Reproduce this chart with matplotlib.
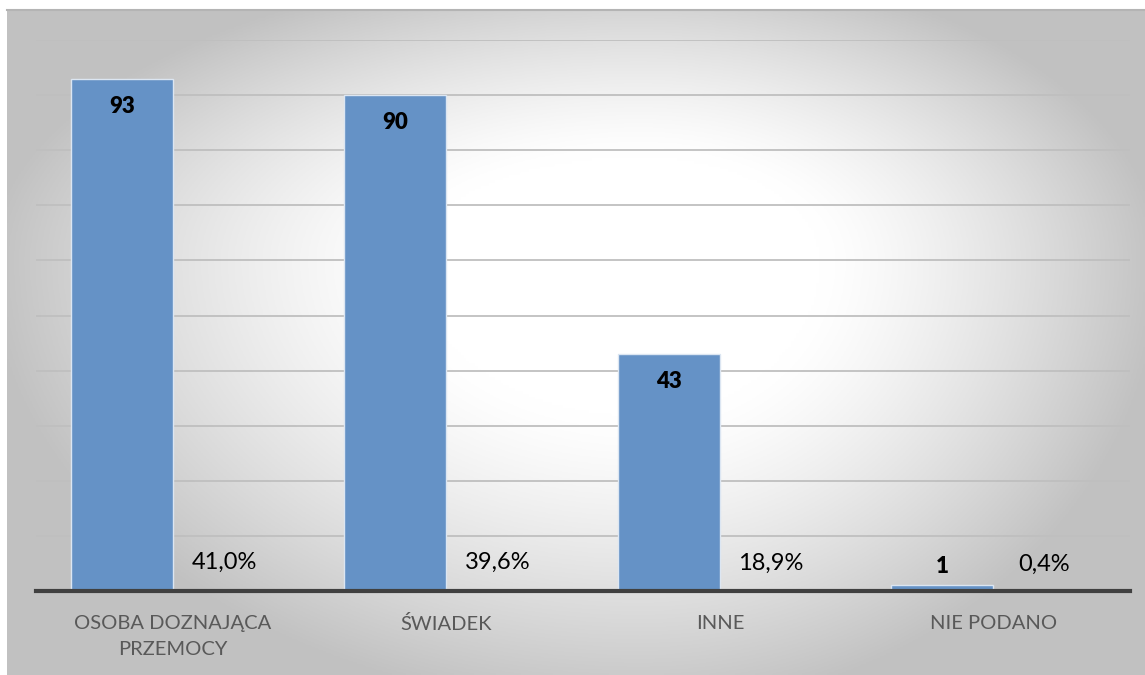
import matplotlib
matplotlib.use("Agg")
import matplotlib.pyplot as plt
import numpy as np

# Dane z wykresu
kategorie = ['OSOBA DOZNAJĄCA\nPRZEMOCY', 'ŚWIADEK', 'INNE', 'NIE PODANO']
liczba = [93, 90, 43, 1]
procent = [41.0, 39.6, 18.9, 0.4]

plt.rcParams['font.family'] = ['Lato', 'DejaVu Sans']

W, H = 1145, 675
fig = plt.figure(figsize=(W / 100, H / 100), dpi=100)

# tlo z gradientem radialnym (bialy srodek, szare brzegi)
bg = fig.add_axes([7 / W, 0, 1 - 7 / W, 665 / H], zorder=0)
gx, gy = np.meshgrid(np.linspace(7, 1145, 400), np.linspace(10, 675, 240))
dx, dy = gx - 640, gy - 260
nx = np.where(dx > 0, dx / 520, dx / 650)
ny = np.where(dy < 0, dy / 300, dy / 450)
r = np.hypot(nx, ny)
fall = np.clip((r - 0.35) / 0.65, 0, 1) ** 1.3
shade = 1 - 0.24 * fall
bg.imshow(np.dstack([shade] * 3), aspect='auto', extent=(0, 1, 0, 1), origin='upper')
bg.set_axis_off()
fig.add_artist(plt.Line2D([7 / W, 1], [665 / H, 665 / H], color='#b4b4b4', lw=1.5))

ax = fig.add_axes([36.3 / W, 84 / H, (1130 - 36.3) / W, 551 / H], zorder=1)
ax.patch.set_alpha(0)

x = np.arange(len(kategorie))
w = 0.373
b1 = ax.bar(x - w / 2, liczba, w, color='#6592c6', edgecolor='#dce6f2', linewidth=1.0, zorder=3)
b2 = ax.bar(x + w / 2, [p / 100 for p in procent], w, color='#c0504d', zorder=3)

for rect, v in zip(b1, liczba):
    top = rect.get_height()
    dy = -20 if v > 10 else 14
    ax.annotate(str(v), (rect.get_x() + w / 2, top), xytext=(0, dy), textcoords='offset points',
                ha='center', va='center', fontsize=16, fontweight='heavy', color='black', zorder=5)

for rect, p in zip(b2, procent):
    ax.annotate(f"{p:.1f}%".replace('.', ','), (rect.get_x() + w / 2, rect.get_height()),
                xytext=(0, 19), textcoords='offset points', ha='center', va='center',
                fontsize=17, color='black', zorder=5)

ax.set_xlim(-0.5, len(kategorie) - 0.5)
ax.set_ylim(0, 100)
ax.set_yticks(np.arange(0, 101, 10))
ax.yaxis.grid(True, color='#bfbfbf', linewidth=1.3, zorder=0)
ax.set_axisbelow(True)
ax.tick_params(axis='y', left=False, labelleft=False)
ax.tick_params(axis='x', bottom=False, pad=14)
ax.set_xticks(x)
ax.set_xticklabels(kategorie, fontsize=14.5, color='#595959', linespacing=1.65)
for s in ['top', 'right', 'left']:
    ax.spines[s].set_visible(False)
ax.spines['bottom'].set_color('#404040')
ax.spines['bottom'].set_linewidth(3)
ax.spines['bottom'].set_zorder(4)

fig.savefig('out.png', dpi=100)
